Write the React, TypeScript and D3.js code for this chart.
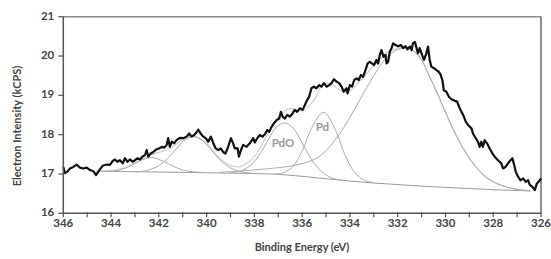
import React from 'react';
import * as d3 from 'd3';

// measured spectrum: [binding energy (eV), intensity (kCPS)]
const measured: [number, number][] = [
  [346.0, 17.18], [345.93, 17.02], [345.83, 17.06], [345.72, 17.14], [345.58, 17.18], [345.44, 17.24],
  [345.3, 17.16], [345.16, 17.14], [345.02, 17.16], [344.88, 17.1], [344.74, 17.07], [344.63, 16.97],
  [344.49, 17.1], [344.35, 17.21], [344.18, 17.24], [344.05, 17.23], [343.93, 17.33], [343.84, 17.37],
  [343.74, 17.31], [343.63, 17.35], [343.51, 17.27], [343.42, 17.4], [343.31, 17.31], [343.21, 17.37],
  [343.1, 17.31], [343.0, 17.35], [342.89, 17.4], [342.79, 17.37], [342.69, 17.44], [342.58, 17.48],
  [342.51, 17.61], [342.44, 17.44], [342.34, 17.52], [342.23, 17.56], [342.09, 17.63], [341.98, 17.65],
  [341.88, 17.69], [341.77, 17.67], [341.67, 17.74], [341.61, 17.91], [341.54, 17.69], [341.46, 17.82],
  [341.36, 17.78], [341.26, 17.86], [341.12, 17.92], [340.98, 17.91], [340.84, 17.95], [340.73, 18.03],
  [340.63, 17.95], [340.52, 17.99], [340.42, 18.06], [340.35, 18.13], [340.25, 18.03], [340.14, 17.95],
  [340.04, 17.91], [339.93, 17.82], [339.82, 17.95], [339.72, 17.78], [339.62, 17.65], [339.51, 17.61],
  [339.41, 17.65], [339.31, 17.56], [339.21, 17.52], [339.1, 17.69], [338.98, 17.91], [338.89, 17.78],
  [338.82, 17.65], [338.7, 17.65], [338.65, 17.44], [338.56, 17.61], [338.47, 17.74], [338.33, 17.69],
  [338.19, 17.78], [338.05, 17.91], [337.98, 17.8], [337.88, 17.91], [337.77, 17.99], [337.66, 17.95],
  [337.56, 18.01], [337.46, 18.12], [337.38, 18.07], [337.28, 18.2], [337.18, 18.29], [337.07, 18.37],
  [336.96, 18.41], [336.89, 18.58], [336.82, 18.46], [336.72, 18.41], [336.63, 18.5], [336.51, 18.46],
  [336.4, 18.54], [336.31, 18.63], [336.21, 18.58], [336.1, 18.67], [335.98, 18.63], [335.89, 18.75],
  [335.79, 18.88], [335.71, 18.96], [335.61, 19.18], [335.51, 19.22], [335.4, 19.18], [335.29, 19.26],
  [335.19, 19.22], [335.09, 19.31], [334.98, 19.22], [334.87, 19.26], [334.77, 19.31], [334.67, 19.41],
  [334.56, 19.35], [334.45, 19.31], [334.35, 19.22], [334.26, 19.09], [334.14, 19.18], [334.1, 19.05],
  [334.0, 19.26], [333.91, 19.22], [333.82, 19.39], [333.72, 19.43], [333.63, 19.39], [333.54, 19.52],
  [333.45, 19.47], [333.35, 19.64], [333.26, 19.81], [333.17, 19.85], [333.07, 19.81], [332.99, 19.77],
  [332.89, 19.9], [332.82, 19.81], [332.75, 20.03], [332.68, 20.15], [332.59, 19.98], [332.51, 20.03],
  [332.47, 19.81], [332.4, 19.85], [332.33, 20.11], [332.26, 20.2], [332.19, 20.32], [332.09, 20.28],
  [331.98, 20.25], [331.87, 20.28], [331.77, 20.2], [331.67, 20.25], [331.59, 20.17], [331.49, 20.24],
  [331.42, 20.15], [331.36, 20.32], [331.28, 20.36], [331.21, 20.2], [331.15, 20.07], [331.08, 20.2],
  [330.98, 20.03], [330.9, 19.9], [330.8, 20.07], [330.73, 20.24], [330.66, 19.9], [330.59, 19.73],
  [330.48, 19.69], [330.38, 19.64], [330.28, 19.6], [330.2, 19.52], [330.13, 19.39], [330.07, 19.13],
  [329.96, 19.09], [329.85, 18.96], [329.75, 18.9], [329.61, 18.86], [329.51, 18.84], [329.43, 18.71],
  [329.33, 18.58], [329.23, 18.46], [329.15, 18.33], [329.05, 18.24], [328.91, 18.16], [328.85, 18.03],
  [328.73, 17.91], [328.64, 17.82], [328.57, 17.69], [328.5, 17.82], [328.43, 17.69], [328.36, 17.86],
  [328.26, 17.78], [328.15, 17.65], [328.03, 17.52], [327.94, 17.44], [327.8, 17.35], [327.66, 17.27],
  [327.59, 17.14], [327.48, 17.18], [327.38, 17.27], [327.28, 17.35], [327.2, 17.4], [327.14, 17.27],
  [327.06, 17.06], [326.96, 16.93], [326.86, 16.84], [326.75, 16.89], [326.64, 16.8], [326.54, 16.84],
  [326.47, 16.72], [326.36, 16.67], [326.26, 16.59], [326.17, 16.76], [326.05, 16.84], [326.0, 16.89],
];

// fitted background
const background: [number, number][] = [
  [344.6, 17.07], [342, 17.05], [340, 17.03], [338, 17.01], [337, 16.99], [336, 16.94], [335, 16.88],
  [334, 16.82], [333, 16.77], [332, 16.73], [331, 16.69], [330, 16.66], [329, 16.63], [328, 16.6],
  [327, 16.58], [326.45, 16.57],
];

// fitted component peaks (on top of background)
const peak342: [number, number][] = [
  [344.5, 17.07], [344.0, 17.07], [343.6, 17.11], [343.2, 17.2], [342.8, 17.33], [342.3, 17.42],
  [341.8, 17.32], [341.4, 17.2], [341.0, 17.1], [340.6, 17.06], [340.2, 17.04],
];
const peak340: [number, number][] = [
  [343.0, 17.05], [342.5, 17.09], [342.0, 17.21], [341.6, 17.41], [341.2, 17.69], [340.9, 17.87],
  [340.55, 17.95], [340.2, 17.86], [339.9, 17.68], [339.5, 17.4], [339.1, 17.19], [338.6, 17.06],
  [338.1, 17.02],
];
const peakPdO: [number, number][] = [
  [339.0, 17.03], [338.6, 17.07], [338.2, 17.2], [337.8, 17.48], [337.4, 17.89], [337.1, 18.18],
  [336.72, 18.3], [336.35, 18.15], [336.0, 17.79], [335.6, 17.36], [335.2, 17.07], [334.8, 16.91],
  [334.3, 16.84],
];
const peakPd: [number, number][] = [
  [337.2, 16.99], [336.8, 17.03], [336.4, 17.18], [336.0, 17.58], [335.6, 18.17], [335.1, 18.57],
  [334.6, 18.11], [334.2, 17.47], [333.8, 17.04], [333.4, 16.84], [333.0, 16.78],
];
const peak332: [number, number][] = [
  [339.5, 17.04], [338.5, 17.08], [337.5, 17.13], [336.5, 17.2], [335.8, 17.3], [335.4, 17.4],
  [335.0, 17.59], [334.6, 17.88], [334.3, 18.14], [334.0, 18.44], [333.7, 18.76], [333.4, 19.09],
  [333.0, 19.5], [332.6, 19.86], [332.2, 20.1], [331.7, 20.21], [331.4, 20.16], [331.0, 19.9],
  [330.7, 19.52], [330.3, 19.0], [329.9, 18.43], [329.5, 17.92], [329.1, 17.49], [328.7, 17.16],
  [328.3, 16.92], [327.9, 16.77], [327.4, 16.66], [326.9, 16.6], [326.45, 16.57],
];
// fitted envelope
const envelope: [number, number][] = [
  [344.6, 17.07], [344.0, 17.09], [343.5, 17.14], [343.0, 17.28], [342.5, 17.44], [342.0, 17.55],
  [341.5, 17.66], [341.0, 17.87], [340.55, 17.97], [340.0, 17.78], [339.5, 17.42], [339.0, 17.22],
  [338.6, 17.19], [338.0, 17.44], [337.5, 17.95], [337.0, 18.45], [336.5, 18.67], [336.0, 18.6],
  [335.5, 18.88], [335.1, 19.3], [334.7, 19.25], [334.3, 19.1], [334.0, 19.12], [333.6, 19.35],
  [333.2, 19.62], [332.8, 19.88], [332.4, 20.1], [332.0, 20.2], [331.7, 20.22], [331.4, 20.16],
  [331.0, 19.9], [330.7, 19.52], [330.3, 19.0], [329.9, 18.43], [329.5, 17.92], [329.1, 17.49],
  [328.7, 17.16], [328.3, 16.92], [327.9, 16.77], [327.4, 16.66], [326.9, 16.6], [326.45, 16.57],
];

const xTicks = [346, 344, 342, 340, 338, 336, 334, 332, 330, 328, 326];
const yTicks = [16, 17, 18, 19, 20, 21];
const peakLabels: [string, number, number][] = [['PdO', 336.8, 17.77], ['Pd', 335.15, 18.17]];

const W = 551;
const H = 259;
const font = 'Lato, "Open Sans", sans-serif';

export default function App() {
  const x = d3.scaleLinear().domain([346, 326]).range([63.3, 541]);
  const y = d3.scaleLinear().domain([16, 21]).range([213.3, 16.7]);
  const [x0, x1] = x.range();
  const [y0, y1] = y.range();

  const smooth = d3.line<[number, number]>().x(d => x(d[0])).y(d => y(d[1])).curve(d3.curveCatmullRom);
  const raw = d3.line<[number, number]>().x(d => x(d[0])).y(d => y(d[1]));

  const minor = d3.range(326, 347, 1);
  const comps = [peak342, peak340, peakPdO, peakPd, peak332];

  return (
    <svg width={W} height={H} style={{ position: 'absolute', left: 0, top: 0, background: '#fff' }}>
      {/* frame */}
      <line x1={x0} x2={x1} y1={y1} y2={y1} stroke="#8a8a8a" strokeWidth={1.5} />
      <line x1={x1} x2={x1} y1={y1} y2={y0} stroke="#6a6a6a" strokeWidth={1.5} />

      {/* fit curves */}
      <path d={smooth(background) || ''} fill="none" stroke="#9a9a9a" strokeWidth={1} />
      <path d={smooth(envelope) || ''} fill="none" stroke="#d2d2d2" strokeWidth={1.3} />
      {comps.map((c, i) => (
        <path key={i} d={smooth(c) || ''} fill="none" stroke="#ababab" strokeWidth={1} />
      ))}

      {/* measured spectrum */}
      <path d={raw(measured) || ''} fill="none" stroke="#111" strokeWidth={2.2} strokeLinejoin="round" />

      {peakLabels.map(([t, e, v]) => (
        <text key={t} x={x(e)} y={y(v)} textAnchor="middle" dominantBaseline="middle"
          fontFamily={font} fontWeight="bold" fontSize={11.5} fill="#9a9a9a">{t}</text>
      ))}

      {/* axes */}
      <line x1={x0} x2={x0} y1={y1} y2={y0} stroke="#555" strokeWidth={1.5} />
      <line x1={x0} x2={x1} y1={y0} y2={y0} stroke="#555" strokeWidth={1.5} />
      {minor.map(v => (
        <line key={v} x1={x(v)} x2={x(v)} y1={y0 - 1} y2={y0 + 4} stroke="#555" strokeWidth={1.2} />
      ))}
      {yTicks.map(v => (
        <g key={v}>
          <line x1={x0 - 5} x2={x0} y1={y(v)} y2={y(v)} stroke="#555" strokeWidth={1.2} />
          <text x={x0 - 9} y={y(v)} textAnchor="end" dominantBaseline="middle"
            fontFamily={font} fontWeight="bold" fontSize={11.5} fill="#444">{v}</text>
        </g>
      ))}
      {xTicks.map(v => (
        <text key={v} x={x(v)} y={224} textAnchor="middle" dominantBaseline="middle"
          fontFamily={font} fontWeight="bold" fontSize={11.5} fill="#444">{v}</text>
      ))}
      <text x={302} y={248} textAnchor="middle" dominantBaseline="middle"
        fontFamily={font} fontWeight="bold" fontSize={11} fill="#444">Binding Energy (eV)</text>
      <text transform="translate(18,126) rotate(-90)" textAnchor="middle" dominantBaseline="middle"
        fontFamily={font} fontWeight="bold" fontSize={11} fill="#444">Electron Intensity (kCPS)</text>
    </svg>
  );
}
